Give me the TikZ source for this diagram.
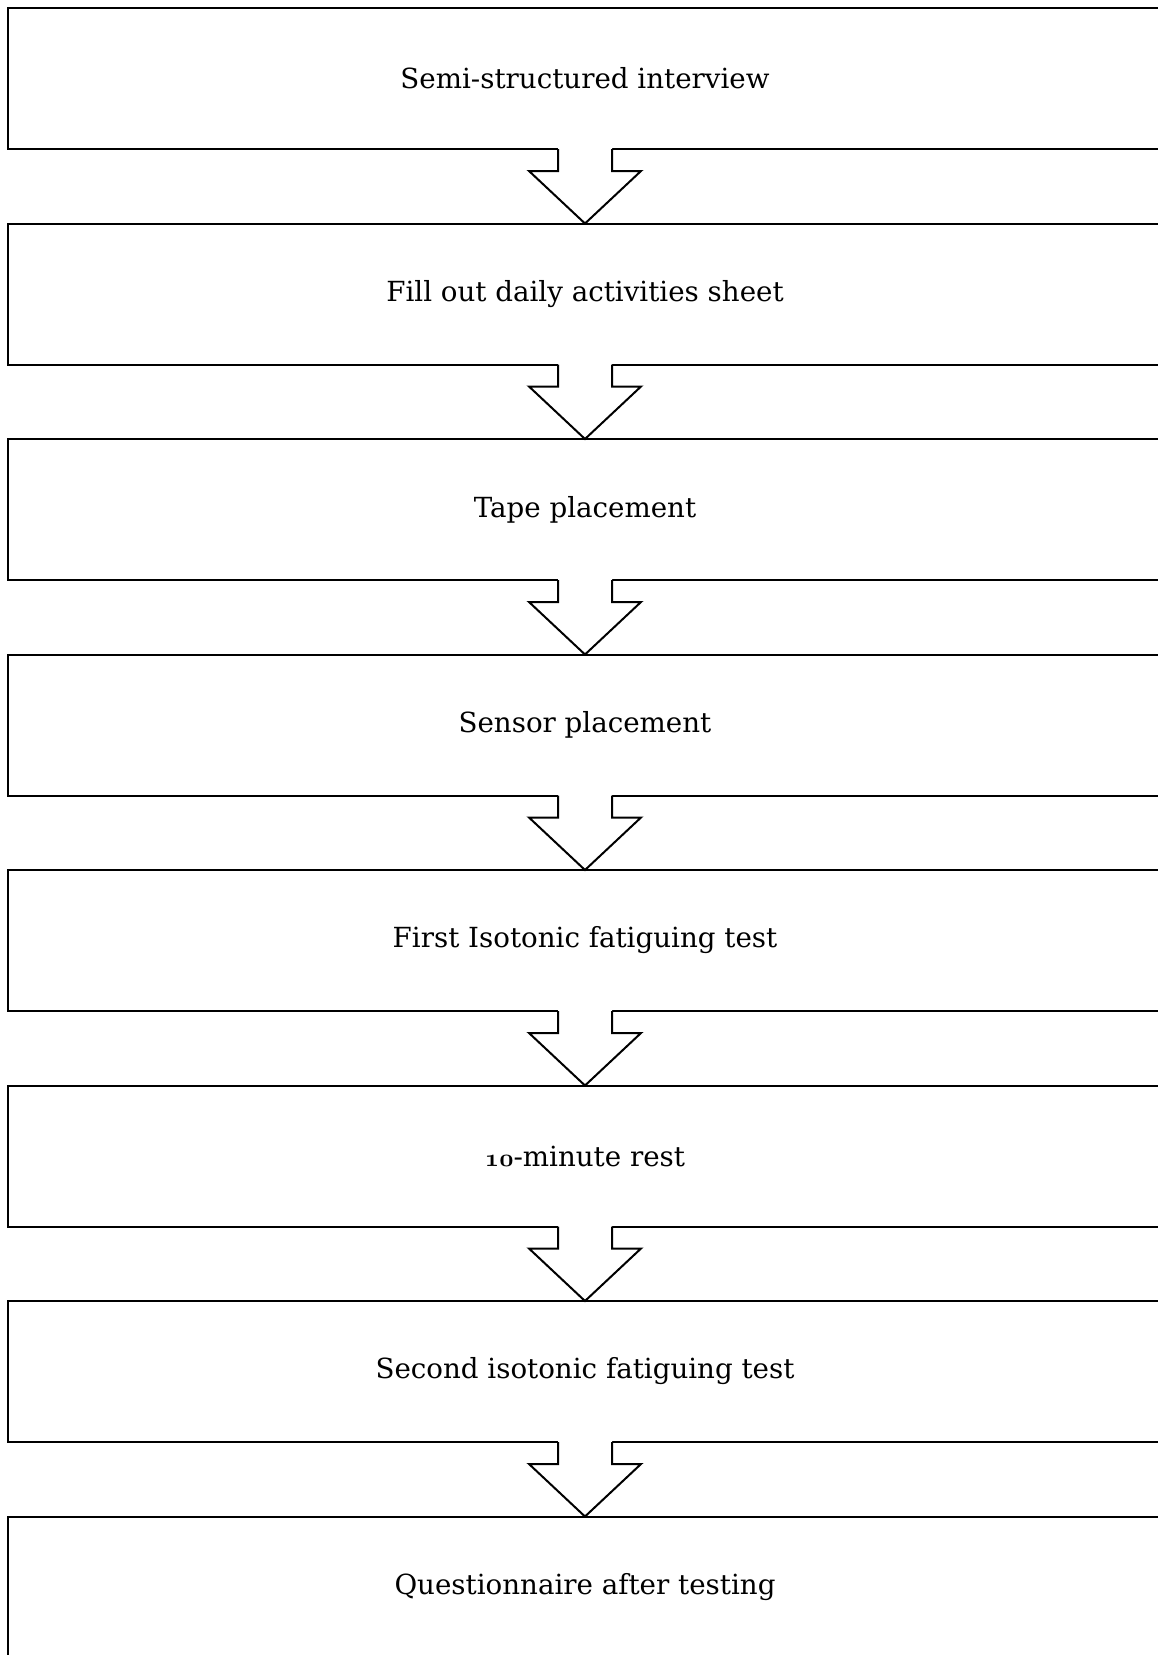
\documentclass[tikz,border=0pt]{standalone}
\usepackage{fontspec}
\setmainfont{DejaVu Serif}
\usetikzlibrary{calc}
\tikzset{
  stepbox/.style={draw=black, line width=2pt, fill=white, minimum width=1154pt, minimum height=141pt, inner sep=0pt, outer sep=0pt, font=\fontsize{27.7}{33}\selectfont},
  flowline/.style={draw=black, line width=2pt, line join=miter},
}
\newcommand\flowarrow[2]{%
  \fill[white] ($(#1.south)+(-27pt,1.5pt)$) -- ($(#1.south)+(-27pt,-22pt)$) -- ($(#1.south)+(-56pt,-22pt)$) -- (#2.north) -- ($(#1.south)+(56pt,-22pt)$) -- ($(#1.south)+(27pt,-22pt)$) -- ($(#1.south)+(27pt,1.5pt)$) -- cycle;
  \draw[flowline] ($(#1.south)+(-27pt,0)$) -- ($(#1.south)+(-27pt,-22pt)$) -- ($(#1.south)+(-56pt,-22pt)$) -- (#2.north) -- ($(#1.south)+(56pt,-22pt)$) -- ($(#1.south)+(27pt,-22pt)$) -- ($(#1.south)+(27pt,0)$);
}
\newcommand\osdigits[1]{{\fontsize{33.5}{33}\usefont{OML}{cmm}{b}{it}#1}}
\begin{document}
\begin{tikzpicture}
\useasboundingbox (0,0) rectangle (1158pt,-1655pt);
\clip (0,0) rectangle (1158pt,-1655pt);
\node[stepbox] (b1) at (585pt,-78.5pt) {Semi-structured interview};
\node[stepbox] (b2) at (585pt,-294pt) {Fill out daily activities sheet};
\node[stepbox] (b3) at (585pt,-509.5pt) {Tape placement};
\node[stepbox] (b4) at (585pt,-725pt) {Sensor placement};
\node[stepbox] (b5) at (585pt,-940.5pt) {First Isotonic fatiguing test};
\node[stepbox] (b6) at (585pt,-1156pt) {\osdigits{10}-minute rest};
\node[stepbox] (b7) at (585pt,-1371.5pt) {Second isotonic fatiguing test};
\node[stepbox, minimum height=300pt] (b8) at (585pt,-1666.5pt) {};
\node[font=\fontsize{27.7}{33}\selectfont] (t8) at (585pt,-1587pt) {Questionnaire after testing};
\flowarrow{b1}{b2}
\flowarrow{b2}{b3}
\flowarrow{b3}{b4}
\flowarrow{b4}{b5}
\flowarrow{b5}{b6}
\flowarrow{b6}{b7}
\flowarrow{b7}{b8}
\end{tikzpicture}
\end{document}
